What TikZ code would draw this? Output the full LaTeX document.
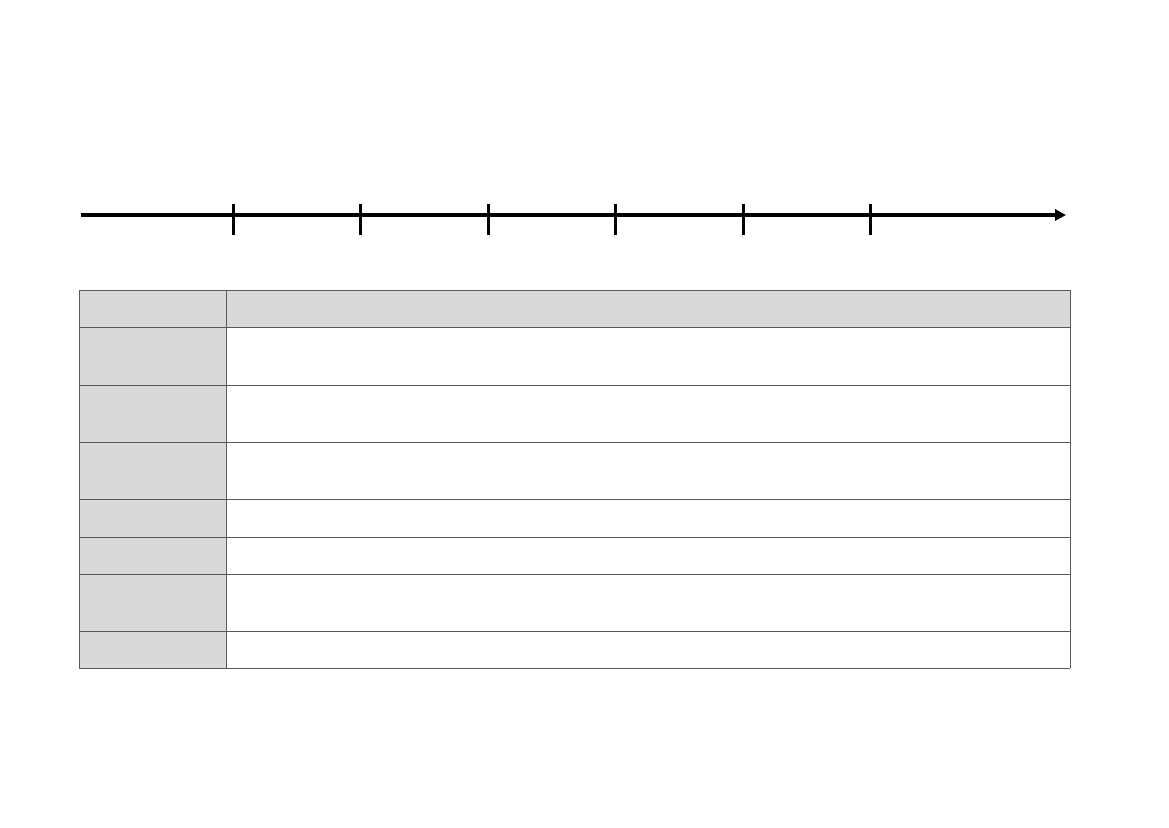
\documentclass[tikz,border=0pt]{standalone}
\usetikzlibrary{arrows.meta}
\definecolor{cellgray}{HTML}{D9D9D9}
\definecolor{rulegray}{HTML}{595959}
\begin{document}
\begin{tikzpicture}[x=1pt,y=-1pt]
            \useasboundingbox (0,0) rectangle (1169,827);
            % time axis
            \coordinate (start) at (81,215);
            \coordinate (end) at (1066,215);
            \draw[line width=3.6pt,-{Triangle[length=11pt,width=11pt]}] (start) -- (end);
            \foreach \x in {233,360,488,615,743,870}
              \draw[line width=3pt] (\x,204) -- (\x,235);
            % table shading
            \fill[cellgray] (79,290) rectangle (1070,327);
            \fill[cellgray] (79,327) rectangle (226,668);
            % table rules
            \foreach \y in {290,327,385,442,499,537,574,631,668}
              \draw[rulegray,line width=1pt] (79,\y) -- (1070,\y);
            \draw[rulegray,line width=1pt] (79,290) -- (79,668);
            \draw[rulegray,line width=1pt] (226,290) -- (226,668);
            \draw[rulegray,line width=1pt] (1070,290) -- (1070,668);
          \end{tikzpicture}
\end{document}
